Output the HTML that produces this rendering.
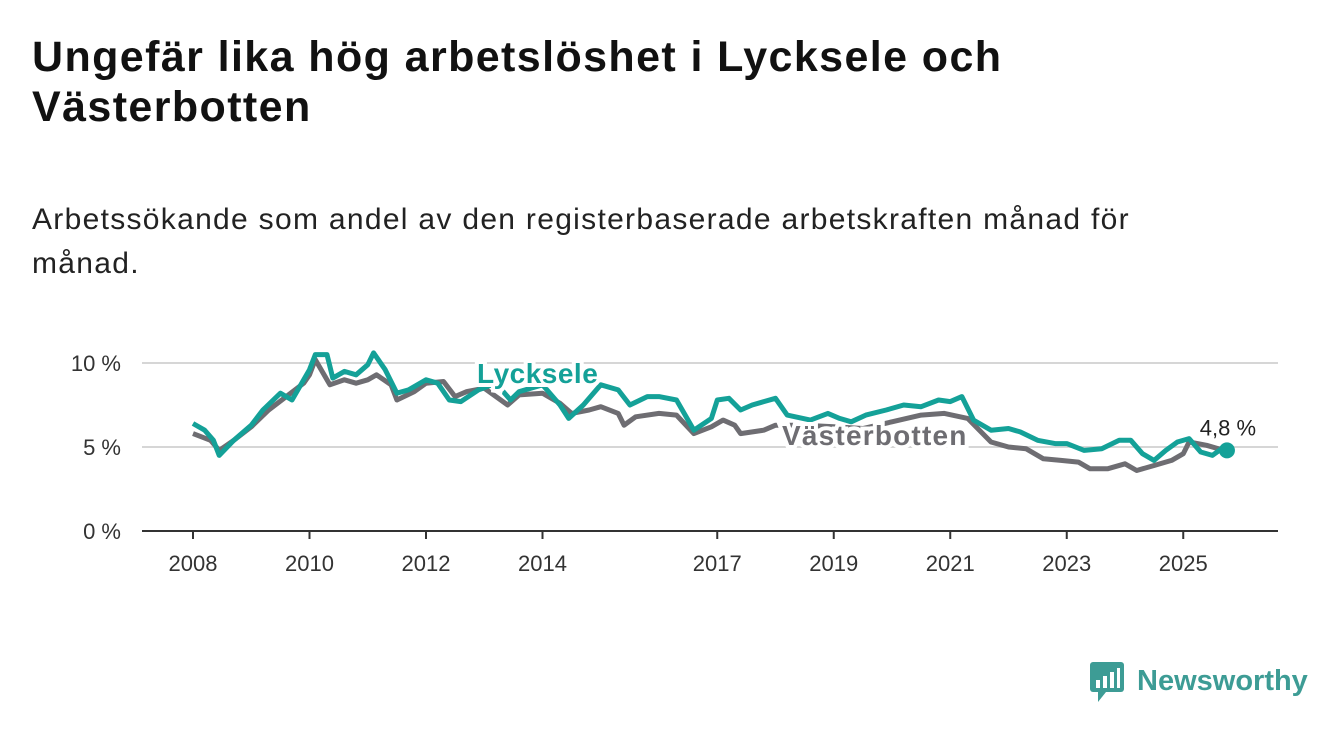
<!DOCTYPE html>
<html><head><meta charset="utf-8"><style>
body{margin:0;background:#fff;width:1340px;height:734px;overflow:hidden;font-family:"Liberation Sans",sans-serif}
h1{position:absolute;left:32px;top:32px;margin:0;font-size:43px;letter-spacing:1.4px;line-height:50px;font-weight:bold;color:#111;width:1100px}
p{position:absolute;left:32px;top:198px;margin:0;font-size:30px;letter-spacing:1.3px;line-height:44px;color:#222;width:1200px}
svg{position:absolute;left:0;top:0}
</style></head><body>
<h1>Ungefär lika hög arbetslöshet i Lycksele och Västerbotten</h1>
<p>Arbetssökande som andel av den registerbaserade arbetskraften månad för månad.</p>
<svg id="c" width="1340" height="734"></svg>
<script>
const yTicks=[0,5,10];
const yTickLabels=["0 %","5 %","10 %"];
const xTicks=[2008,2010,2012,2014,2017,2019,2021,2023,2025];
const lyTimes=[2008.0,2008.2,2008.35,2008.45,2008.7,2009.0,2009.2,2009.5,2009.7,2009.9,2010.0,2010.1,2010.3,2010.4,2010.6,2010.8,2011.0,2011.1,2011.3,2011.5,2011.7,2012.0,2012.2,2012.4,2012.6,2012.9,2013.2,2013.45,2013.6,2014.0,2014.3,2014.45,2014.7,2015.0,2015.3,2015.5,2015.8,2016.0,2016.3,2016.6,2016.9,2017.0,2017.2,2017.4,2017.6,2017.8,2018.0,2018.2,2018.6,2018.9,2019.1,2019.3,2019.55,2019.9,2020.2,2020.5,2020.8,2021.0,2021.2,2021.4,2021.7,2022.0,2022.2,2022.5,2022.8,2023.0,2023.3,2023.6,2023.9,2024.1,2024.3,2024.5,2024.7,2024.9,2025.1,2025.3,2025.5,2025.7,2025.75];
const lyValues=[6.4,6.0,5.4,4.5,5.4,6.3,7.2,8.2,7.8,9.0,9.6,10.5,10.5,9.1,9.5,9.3,9.9,10.6,9.6,8.2,8.4,9.0,8.8,7.8,7.7,8.4,8.8,7.8,8.3,8.7,7.5,6.7,7.5,8.7,8.4,7.5,8.0,8.0,7.8,6.0,6.7,7.8,7.9,7.2,7.5,7.7,7.9,6.9,6.6,7.0,6.7,6.5,6.9,7.2,7.5,7.4,7.8,7.7,8.0,6.6,6.0,6.1,5.9,5.4,5.2,5.2,4.8,4.9,5.4,5.4,4.6,4.2,4.8,5.3,5.5,4.7,4.5,5.0,4.8];
const vbTimes=[2008.0,2008.3,2008.45,2008.7,2009.0,2009.3,2009.6,2009.9,2010.0,2010.1,2010.35,2010.6,2010.8,2011.0,2011.15,2011.4,2011.5,2011.8,2012.0,2012.3,2012.5,2012.7,2013.0,2013.4,2013.6,2014.0,2014.3,2014.5,2014.8,2015.0,2015.3,2015.4,2015.6,2016.0,2016.3,2016.6,2016.9,2017.1,2017.3,2017.4,2017.8,2018.0,2018.5,2019.0,2019.5,2020.0,2020.5,2020.9,2021.3,2021.7,2022.0,2022.3,2022.6,2022.9,2023.2,2023.4,2023.7,2024.0,2024.2,2024.5,2024.8,2025.0,2025.1,2025.4,2025.7];
const vbValues=[5.8,5.4,4.8,5.4,6.2,7.2,8.0,8.8,9.3,10.2,8.7,9.0,8.8,9.0,9.3,8.7,7.8,8.3,8.8,8.9,8.0,8.3,8.5,7.5,8.1,8.2,7.6,7.0,7.2,7.4,7.0,6.3,6.8,7.0,6.9,5.8,6.2,6.6,6.3,5.8,6.0,6.3,6.3,6.2,6.1,6.5,6.9,7.0,6.7,5.3,5.0,4.9,4.3,4.2,4.1,3.7,3.7,4.0,3.6,3.9,4.2,4.6,5.3,5.1,4.8];
const X0=142,X1=1278,Y0=531;
const xs=t=>193+(t-2008)*58.25;
const ys=v=>Y0-v*16.8;
const NS="http://www.w3.org/2000/svg",svg=document.getElementById('c');
function mk(tag,attrs,txt){const e=document.createElementNS(NS,tag);for(const k in attrs)e.setAttribute(k,attrs[k]);if(txt!=null)e.textContent=txt;svg.appendChild(e);return e;}
yTicks.forEach((v,i)=>{
  if(v>0){const g=mk('line',{x1:X0,x2:X1,y1:ys(v),y2:ys(v),stroke:'#d6d6d6','stroke-width':2});
  
  }
  const t=mk('text',{x:121,y:ys(v)+8,'text-anchor':'end','font-size':22,fill:'#333'},yTickLabels[i]);
  
  
});
const ax=mk('line',{x1:X0,x2:X1,y1:Y0,y2:Y0,stroke:'#333','stroke-width':2});


xTicks.forEach(y=>{
  const tk=mk('line',{x1:xs(y),x2:xs(y),y1:Y0,y2:Y0+8,stroke:'#333','stroke-width':2});
  
  
  const t=mk('text',{x:xs(y),y:571,'text-anchor':'middle','font-size':22,fill:'#333'},String(y));
  
  
});
function path(ts,vs){return ts.map((t,i)=>(i?'L':'M')+xs(t).toFixed(1)+','+ys(vs[i]).toFixed(1)).join('');}
const vb=mk('path',{d:path(vbTimes,vbValues),fill:'none',stroke:'#6e6d72','stroke-width':5,'stroke-linejoin':'round'});


const ly=mk('path',{d:path(lyTimes,lyValues),fill:'none',stroke:'#14a198','stroke-width':5,'stroke-linejoin':'round'});


const n=lyTimes.length-1;
const dot=mk('circle',{cx:xs(lyTimes[n]),cy:ys(lyValues[n]),r:8,fill:'#14a198'});


const lv=mk('text',{x:xs(lyTimes[n])+1,y:ys(lyValues[n])-15,'text-anchor':'middle','font-size':22,fill:'#222',stroke:'#fff','stroke-width':5,'paint-order':'stroke'},lyValues[n].toFixed(1).replace('.',',')+' %');


const l1=mk('text',{x:477,y:383,'font-size':28,'font-weight':'bold','letter-spacing':0.5,fill:'#14a198',stroke:'#fff','stroke-width':8,'paint-order':'stroke'},'Lycksele');


const l2=mk('text',{x:782,y:445,'font-size':28,'font-weight':'bold','letter-spacing':1.2,fill:'#6e6d72',stroke:'#fff','stroke-width':8,'paint-order':'stroke'},'Västerbotten');


const g=mk('g',{});


g.innerHTML='<rect x="1090" y="662" width="34" height="30" rx="3" fill="#3d9c95"/><polygon points="1098,692 1106,692 1098,702" fill="#3d9c95"/><rect x="1096" y="680" width="4" height="8" fill="#fff"/><rect x="1103" y="676" width="4" height="12" fill="#fff"/><rect x="1110" y="672" width="4" height="16" fill="#fff"/><rect x="1117" y="668" width="3" height="20" fill="#fff"/><text x="1137" y="690" font-size="29" font-weight="bold" fill="#3d9c95">Newsworthy</text>';
</script>
</body></html>
